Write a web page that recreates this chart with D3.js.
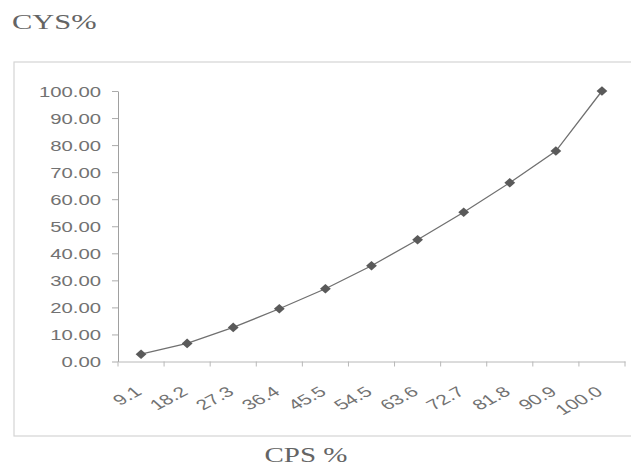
<!DOCTYPE html>
<html>
<head>
<meta charset="utf-8">
<script src="https://cdn.jsdelivr.net/npm/d3@7"></script>
<style>
  html, body { margin: 0; padding: 0; background: #fff; }
  svg { display: block; }
</style>
</head>
<body>
<svg id="chart" width="631" height="466"></svg>
<script>
// Cumulative plot: CYS% against CPS%
const categories = ["9.1", "18.2", "27.3", "36.4", "45.5", "54.5", "63.6", "72.7", "81.8", "90.9", "100.0"];
const cysValues = [2.7, 6.7, 12.6, 19.5, 26.9, 35.4, 45.0, 55.2, 66.1, 77.8, 100.0];
const yTicks = [0, 10, 20, 30, 40, 50, 60, 70, 80, 90, 100];

const svg = d3.select("#chart");
const textStretch = 1.4; // wide lettering
const labelColor = "#727272";

const plot = { left: 118, right: 625, top: 91, bottom: 361.5 };

const x = d3.scaleBand().domain(categories).range([plot.left, plot.right]).padding(0);
const y = d3.scaleLinear().domain([0, 100]).range([plot.bottom, plot.top]);

// outer chart frame
svg.append("rect")
  .attr("x", 14).attr("y", 62)
  .attr("width", 640).attr("height", 374)
  .attr("fill", "none")
  .attr("stroke", "#d4d4d4")
  .attr("stroke-width", 1.2);

// y axis
const yAxis = svg.append("g")
  .attr("transform", `translate(${plot.left},0)`)
  .call(d3.axisLeft(y).tickValues(yTicks).tickFormat(d3.format(".2f")).tickSize(6).tickSizeOuter(0));
yAxis.select(".domain").attr("stroke", "#a0a0a0");
yAxis.selectAll(".tick line").attr("stroke", "#ababab");
yAxis.selectAll(".tick text")
  .attr("x", null)
  .attr("dy", "0.36em")
  .attr("transform", `translate(-17,0) scale(${textStretch},1)`)
  .attr("fill", labelColor)
  .style("font-family", "'Liberation Sans', Arial, sans-serif")
  .style("font-size", "14.5px");

// x axis
const xAxis = svg.append("g")
  .attr("transform", `translate(0,${plot.bottom})`)
  .call(d3.axisBottom(x).tickSize(0).tickSizeOuter(0));
xAxis.select(".domain").attr("stroke", "#b8b8b8");
xAxis.selectAll(".tick text")
  .attr("y", null).attr("dy", null)
  .attr("text-anchor", "end")
  .attr("transform", `translate(2,32) scale(${textStretch + 0.05},1) rotate(-38)`)
  .attr("fill", labelColor)
  .style("font-family", "'Liberation Sans', Arial, sans-serif")
  .style("font-size", "14.5px");

// category boundary ticks
const boundaries = categories.map(c => x(c)).concat([x(categories[categories.length - 1]) + x.bandwidth()]);
svg.append("g").selectAll("line")
  .data(boundaries)
  .join("line")
  .attr("x1", d => d).attr("x2", d => d)
  .attr("y1", plot.bottom).attr("y2", plot.bottom + 5)
  .attr("stroke", "#b8b8b8");

// series line
const pts = categories.map((c, i) => ({ c, v: cysValues[i] }));
svg.append("path")
  .datum(pts)
  .attr("fill", "none")
  .attr("stroke", "#707070")
  .attr("stroke-width", 1.3)
  .attr("d", d3.line().x(d => x(d.c) + x.bandwidth() / 2).y(d => y(d.v)));

// diamond markers
svg.append("g").selectAll("path")
  .data(pts)
  .join("path")
  .attr("transform", d => `translate(${x(d.c) + x.bandwidth() / 2},${y(d.v)})`)
  .attr("d", "M0,-4.8L5.4,0L0,4.8L-5.4,0Z")
  .attr("fill", "#5a5a5a");

// axis titles
svg.append("text")
  .attr("transform", `translate(12,29) scale(1.45,1)`)
  .attr("fill", "#646464")
  .style("font-family", "'Liberation Serif', 'Times New Roman', serif")
  .style("font-size", "21px")
  .text("CYS%");

svg.append("text")
  .attr("transform", `translate(306,462) scale(1.45,1)`)
  .attr("text-anchor", "middle")
  .attr("fill", "#646464")
  .style("font-family", "'Liberation Serif', 'Times New Roman', serif")
  .style("font-size", "20px")
  .text("CPS %");
</script>
</body>
</html>
